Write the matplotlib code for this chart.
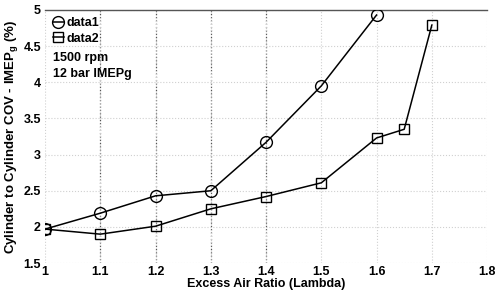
import matplotlib.pyplot as plt

plt.rcParams['font.family'] = 'Liberation Sans'
plt.rcParams['font.weight'] = 'bold'
plt.rcParams['mathtext.fontset'] = 'custom'
plt.rcParams['mathtext.bf'] = 'Liberation Sans:bold'
plt.rcParams['mathtext.rm'] = 'Liberation Sans:bold'

# data
lam1 = [1.0, 1.1, 1.2, 1.3, 1.4, 1.5, 1.6]
cov1 = [1.97, 2.19, 2.43, 2.50, 3.17, 3.95, 4.93]
lam2 = [1.0, 1.1, 1.2, 1.3, 1.4, 1.5, 1.6, 1.65, 1.7]
cov2 = [1.97, 1.90, 2.01, 2.25, 2.42, 2.61, 3.23, 3.35, 4.79]
xticks = [1.0, 1.1, 1.2, 1.3, 1.4, 1.5, 1.6, 1.7, 1.8]
xticklabels = ['1', '1.1', '1.2', '1.3', '1.4', '1.5', '1.6', '1.7', '1.8']
yticks = [1.5, 2, 2.5, 3, 3.5, 4, 4.5, 5]
yticklabels = ['1.5', '2', '2.5', '3', '3.5', '4', '4.5', '5']

fig = plt.figure(figsize=(4.95, 2.92), dpi=100)
ax = fig.add_axes([0.091, 0.099, 0.893, 0.867])

# light grid everywhere, darker verticals where the original shows them
ax.grid(True, linestyle=':', color='#d0d0d0', linewidth=0.8)
for x in [1.1, 1.2, 1.3, 1.4]:
    ax.axvline(x, linestyle=':', color='#555555', linewidth=0.9, zorder=1)

ax.plot(lam1, cov1, '-o', color='black', linewidth=1.1, markersize=8.5,
        markerfacecolor='none', markeredgewidth=1.0, label='data1', zorder=3)
ax.plot(lam2, cov2, '-s', color='black', linewidth=1.1, markersize=7,
        markerfacecolor='none', markeredgewidth=1.0, label='data2', zorder=3)

ax.set_xlim(1.0, 1.8)
ax.set_ylim(1.5, 5)
ax.set_xticks(xticks)
ax.set_xticklabels(xticklabels, fontsize=9, fontweight='bold')
ax.set_yticks(yticks)
ax.set_yticklabels(yticklabels, fontsize=9, fontweight='bold')
ax.tick_params(axis='x', length=0, pad=2)
ax.tick_params(axis='y', length=0, pad=3)

for s in ['left', 'right', 'bottom']:
    ax.spines[s].set_visible(False)
ax.spines['top'].set_color('#555555')
ax.spines['top'].set_linewidth(1.0)

ax.set_xlabel('Excess Air Ratio (Lambda)', fontsize=9, fontweight='bold', labelpad=0)
ax.set_ylabel(r'Cylinder to Cylinder COV - IMEP$_\mathbf{g}$ (%)', fontsize=9.5,
              fontweight='bold', labelpad=2)

leg = ax.legend(loc='upper left', frameon=False, fontsize=9, handlelength=0.9,
                handletextpad=0.2, borderaxespad=0.2, labelspacing=0.25,
                bbox_to_anchor=(0.0, 1.0))
ax.text(0.018, 0.81, '1500 rpm', transform=ax.transAxes, fontsize=9,
        fontweight='bold', va='center')
ax.text(0.018, 0.747, '12 bar IMEPg', transform=ax.transAxes, fontsize=9,
        fontweight='bold', va='center')

fig.savefig('out.png', dpi=100)
